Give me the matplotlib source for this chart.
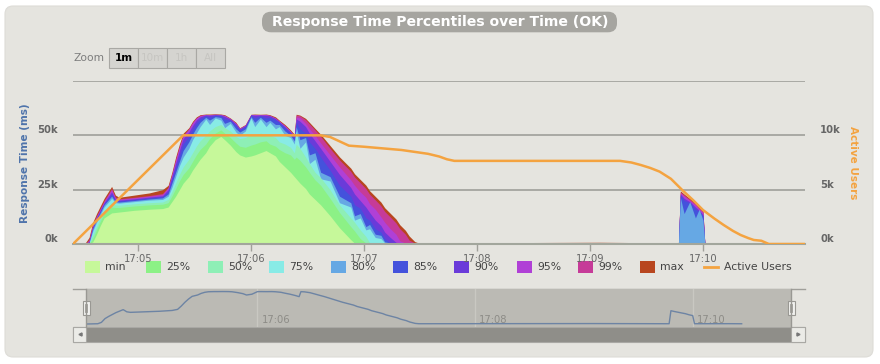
import matplotlib
matplotlib.use("Agg")
import matplotlib.pyplot as plt
from matplotlib.patches import FancyBboxPatch, Rectangle

plt.rcParams["font.family"] = ["DejaVu Sans"]

# time axis: seconds after 17:04:00
t_sec = [26, 32, 34, 36, 38, 40, 42, 46, 48, 50, 58, 66, 73,
         76, 78, 80, 82, 84, 87, 89, 91, 93, 96, 98, 101, 104, 106, 109, 112, 114,
         117, 120, 122, 125, 128, 130, 133, 135, 138, 141, 143,
         144, 146, 149, 151, 154, 157, 162, 167, 173, 175, 178, 181, 183, 186, 189,
         191, 194, 197, 199, 202, 204, 207, 209,
         305, 347, 348, 350, 353, 356, 358, 360, 361, 380, 387]

# response time percentiles (thousands of ms)
p_min = [0, 0, 0, 1, 4.5, 8.5, 12, 14.3, 14.5, 14.7, 15.5, 16, 16.3,
         17, 19.5, 22, 25, 28, 31, 34, 36.5, 39, 42, 45, 48, 49.5, 48, 45.5, 42.5, 41,
         40, 40.5, 41, 42, 43, 42, 40.5, 38, 35.5, 33, 31,
         30, 28, 25.5, 23, 20.5, 18, 13, 7.5, 2, 0.4, 0.4, 0.4, 0.4, 0.4, 0.4,
         0.4, 0.4, 0.4, 0.4, 0.4, 0.4, 0.4, 0.4,
         0.4, 0.4, 0.4, 0.4, 0.4, 0.4, 0.4, 0.4, 0.4, 0.4, 0.4]
p25 = [0, 0, 0, 2.5, 6.5, 10.5, 14, 17, 16.8, 16.8, 17.5, 18, 18.3,
       19, 22, 25.5, 29, 32, 35, 38, 41, 43.5, 46, 48.5, 51, 52.5, 51, 49, 46.5, 45,
       44.5, 45.5, 46, 47, 47.5, 46, 45, 43.5, 42, 41, 39,
       40, 38.5, 35.5, 33, 29.5, 27, 21, 14.5, 8, 6, 2.5, 0.5, 0.4, 0.4, 0.4,
       0.4, 0.4, 0.4, 0.4, 0.4, 0.4, 0.4, 0.4,
       0.4, 0.4, 0.4, 0.4, 0.4, 0.4, 0.4, 0.4, 0.4, 0.4, 0.4]
p50 = [0, 0, 0.1, 4, 8, 12, 15.5, 19, 18, 17.8, 18.5, 19, 19.3,
       20.5, 24, 28, 32, 35.5, 39, 42, 45, 47.5, 50, 52, 54, 55, 53.5, 52, 49.5, 48.5,
       49, 50.5, 50, 51, 50.5, 50, 49, 47, 46, 44.5, 42,
       46, 44, 40, 37, 33, 30.5, 25, 18, 12, 10, 6.5, 3.5, 0.6, 0.45, 0.45,
       0.45, 0.45, 0.45, 0.45, 0.45, 0.45, 0.45, 0.45,
       0.45, 0.45, 0.45, 0.45, 0.45, 0.45, 0.45, 0.45, 0.45, 0.45, 0.45]
p75 = [0, 0, 0.2, 6, 10, 13.5, 17, 21, 19, 18.8, 19.5, 20.2, 20.5,
       22, 26, 31, 36, 40, 44, 48, 51, 54, 57.5, 55, 58, 57, 53.5, 55.5, 51.5, 50,
       52, 58, 54, 57.5, 54, 56, 53, 54, 50, 49, 46,
       52, 44, 47, 37, 39, 30, 29, 19, 17, 11, 12, 6.5, 7, 3, 2.5,
       0.5, 0.45, 0.45, 0.45, 0.45, 0.45, 0.45, 0.45,
       0.45, 0.45, 0.45, 0.45, 0.45, 0.45, 0.45, 0.45, 0.45, 0.45, 0.45]
p80 = [0, 0, 0.3, 7, 11, 14.5, 18, 22, 19.5, 19.3, 20, 20.7, 21.2,
       23, 28, 33, 38, 43, 47, 50.5, 53.5, 56, 58.3, 57, 58.6, 58.2, 55.5, 56.5, 53, 51.5,
       53, 58.6, 56, 58.3, 56, 57, 55, 55, 52, 50, 47.5,
       54, 48, 49, 41, 42, 33, 31, 22, 19, 13, 14, 8, 9, 4.5, 4,
       1, 0.45, 0.45, 0.45, 0.45, 0.45, 0.45, 0.45,
       0.45, 0.45, 21.5, 14, 19.5, 12, 16, 11, 0.45, 0.45, 0.45]
p85 = [0, 0, 0.5, 7.5, 11.5, 15, 18.5, 23, 20, 19.8, 20.4, 21.2, 21.7,
       24, 29.5, 35, 40.5, 46, 49.5, 52.5, 55.5, 57.5, 59, 58.3, 59.2, 59, 57.5, 57, 54.5, 52.5,
       54, 59.2, 58, 59, 58, 58.3, 57, 56, 53.5, 51, 48.5,
       56, 53, 51, 47, 44, 40, 34, 27, 22, 18, 16.5, 12, 11, 7, 5.5,
       2.5, 0.5, 0.45, 0.45, 0.45, 0.45, 0.45, 0.45,
       0.45, 0.45, 22.5, 20, 19, 16, 15, 13, 0.45, 0.45, 0.45]
p90 = [0, 0, 1, 8, 12, 15.5, 19, 24, 20.5, 20.2, 20.8, 21.6, 22.2,
       25, 31, 37, 43, 48.5, 51.5, 54.5, 57, 58.5, 59.4, 59.2, 59.5, 59.4, 58.7, 57.5, 55.2, 53,
       54.5, 59.5, 59.2, 59.3, 59.2, 59, 57.7, 56.3, 54, 51.5, 49.5,
       57.5, 56.5, 54, 51, 47.5, 44, 38, 32, 26, 23, 20, 17, 14.5, 11, 8.5,
       5.5, 3, 0.8, 0.45, 0.45, 0.45, 0.45, 0.45,
       0.45, 0.45, 23, 21, 19.5, 17, 15.5, 13.5, 0.45, 0.45, 0.45]
p95 = [0, 0, 1.5, 8.5, 12.5, 16, 19.5, 25, 21, 20.5, 21.2, 22, 22.7,
       25.8, 32, 38.5, 44.5, 50, 52.8, 55.8, 58, 59, 59.6, 59.5, 59.7, 59.6, 59.2, 57.8, 55.6, 53.3,
       54.8, 59.6, 59.6, 59.5, 59.6, 59.2, 58, 56.6, 54.4, 51.9, 49.9,
       58.5, 58, 55.5, 53, 50, 46.5, 41, 35.5, 29.5, 27, 24, 21.5, 18.5, 16, 12.5,
       10, 7, 4.5, 1.5, 0.45, 0.45, 0.45, 0.45,
       0.45, 0.45, 23.5, 22, 20, 18, 16, 14.5, 0.45, 0.45, 0.45]
p99 = [0, 0, 2, 9, 13, 16.5, 20, 25.5, 21.5, 20.8, 21.5, 22.3, 23.2,
       26, 32, 39, 45, 50, 53, 56, 58, 59.3, 59.6, 59.5, 59.7, 59.5, 59, 57.5, 55.5, 53,
       54.5, 59.3, 59.5, 59.4, 59.5, 59.2, 58, 56.5, 54.5, 52, 50,
       59.4, 59, 57.2, 55.3, 52.5, 49.5, 44, 38.7, 33.4, 30.8, 28.2, 25.5, 22.9, 20.3, 17.6,
       15, 12.4, 9.7, 7.1, 4.5, 1.8, 0.45, 0.45,
       0.5, 0.45, 24, 22.5, 20.5, 18.5, 16.5, 15, 0.45, 0.45, 0.45]
p_max = [0, 0.5, 3, 10, 14, 17.5, 21, 26.5, 22.5, 21.5, 22.5, 23.5, 25,
         27, 33, 40, 46, 51, 53.5, 56.5, 58.5, 59.5, 59.8, 59.8, 59.9, 59.8, 59.5, 58, 56, 53.5,
         55, 59.7, 59.8, 59.7, 59.8, 59.5, 58.5, 57, 55, 52.5, 50.5,
         59.7, 59.3, 57.8, 56, 53.2, 50.5, 45.3, 40.1, 34.9, 32.3, 29.7, 27.1, 24.5, 21.9, 19.3,
         16.7, 14.1, 11.5, 8.9, 6.3, 3.7, 1.1, 0.5,
         0.8, 0.5, 24.5, 23, 21, 19, 17, 15.5, 0.5, 0.6, 0.45]

# active users (thousands)
au_t = [25.5, 84, 157, 162, 167, 172, 180, 190, 200, 208, 214, 220, 224, 228,
        316, 322, 327, 332, 337, 343, 349, 355, 360, 366, 371, 376, 380, 384, 387,
        391, 395, 414.2]
au_k = [0, 10, 10, 9.85, 9.45, 9.05, 8.95, 8.8, 8.65, 8.45, 8.3, 8.05, 7.8, 7.65,
        7.65, 7.5, 7.27, 7.0, 6.66, 6.0, 4.97, 4.0, 3.13, 2.35, 1.75, 1.2, 0.83, 0.55, 0.37,
        0.3, 0, 0]

names = ["min", "25%", "50%", "75%", "80%", "85%", "90%", "95%", "99%", "max"]
values = [p_min, p25, p50, p75, p80, p85, p90, p95, p99, p_max]
colors = ["#c6f89a", "#8cf186", "#8eefb6", "#88ebe6", "#66a8e4",
          "#4452dc", "#6a3bd9", "#b040d6", "#c63b98", "#b8461f"]
au_color = "#f4a340"

minute_ticks = [60, 120, 180, 240, 300, 360]
minute_labels = ["17:05", "17:06", "17:07", "17:08", "17:09", "17:10"]

W, H = 880, 364
fig = plt.figure(figsize=(W / 100, H / 100), dpi=100, facecolor="white")

def frame(x0, y0, x1, y1):
    return [x0 / W, 1 - y1 / H, (x1 - x0) / W, (y1 - y0) / H]

# background layer in pixel coords
bg = fig.add_axes([0, 0, 1, 1], zorder=0)
bg.set_xlim(0, W)
bg.set_ylim(H, 0)
bg.axis("off")

bg.add_patch(FancyBboxPatch((5, 6), 868, 351, boxstyle="round,pad=0,rounding_size=8",
                            fc="#e5e4df", ec="#dddcd7", lw=0.8))
bg.add_patch(FancyBboxPatch((262, 11.7), 355, 20.6, boxstyle="round,pad=0,rounding_size=9",
                            fc="#a6a5a0", ec="none"))
bg.text(440, 22.3, "Response Time Percentiles over Time (OK)", color="white",
        fontsize=10.1, fontweight="bold", ha="center", va="center")

# zoom buttons
bg.text(73, 58, "Zoom", color="#7d7d7d", fontsize=7.75, va="center")
for i, lab in enumerate(["1m", "10m", "1h", "All"]):
    bx = 109 + 29 * i
    bg.add_patch(Rectangle((bx, 48), 29, 19.5, fc="#d5d4d0", ec="#a9a8a4", lw=0.8))
    if i == 0:
        bg.text(bx + 14.5, 57.8, lab, color="black", fontsize=7.5, fontweight="bold",
                ha="center", va="center")
    else:
        bg.text(bx + 14.5, 57.8, lab, color="#c6c5c1", fontsize=7.5,
                ha="center", va="center")

# axis titles
bg.text(25, 163, "Response Time (ms)", rotation=90, color="#4f74ab", fontsize=7.6,
        fontweight="bold", ha="center", va="center")
bg.text(853, 163, "Active Users", rotation=270, color=au_color, fontsize=7.5,
        fontweight="bold", ha="center", va="center")

# legend
leg_x = [85, 146, 208, 269, 331, 393, 454, 517, 578, 640]
for lx, name, col in zip(leg_x, names, colors):
    bg.add_patch(Rectangle((lx, 261), 15, 12, fc=col, ec="none"))
    bg.text(lx + 20, 267.5, name, color="#444444", fontsize=7.85, va="center")
bg.plot([704, 718], [267, 267], color=au_color, lw=2)
bg.text(724, 267.5, "Active Users", color="#444444", fontsize=7.85, va="center")

# navigator frame and scrollbar
bg.plot([73, 805], [289, 289], color="#a09f9a", lw=1)
bg.add_patch(Rectangle((73, 327), 732, 14.5, fc="#8f8e89", ec="#a9a8a4", lw=0.8))
bg.add_patch(Rectangle((73, 327), 13, 14.5, fc="#ebebe7", ec="#a9a8a4", lw=0.8))
bg.add_patch(Rectangle((791, 327), 14, 14.5, fc="#ebebe7", ec="#a9a8a4", lw=0.8))
bg.plot(79.5, 334.3, marker="<", ms=2.2, color="#777777")
bg.plot(798, 334.3, marker=">", ms=2.2, color="#777777")

# main chart
ax = fig.add_axes(frame(73, 81, 805, 244), zorder=2)
ax.patch.set_visible(False)
for name, vals, col in reversed(list(zip(names, values, colors))):
    ax.fill_between(t_sec, 0, [v * 1000 for v in vals], color=col, lw=0)
for gy in (25000, 50000, 75000):
    ax.axhline(gy, color="#a4a49f", lw=1.3, zorder=0.5)
ax.set_xlim(25.5, 414.2)
ax.set_ylim(0, 75000)
for s in ("top", "left", "right"):
    ax.spines[s].set_visible(False)
ax.spines["bottom"].set_color("#a2a69c")
ax.spines["bottom"].set_linewidth(1.5)
ax.set_xticks(minute_ticks)
ax.set_xticklabels(minute_labels)
ax.tick_params(axis="x", length=5, width=1, color="#a0a09a", labelsize=7.2,
               labelcolor="#666666", pad=2)
ax.set_yticks([0, 25000, 50000])
ax.set_yticklabels(["0k", "25k", "50k"], fontweight="bold")
ax.tick_params(axis="y", length=0, pad=10.8, labelsize=7.2, labelcolor="#666666")
for lab in ax.get_yticklabels():
    lab.set_va("bottom")

ax2 = ax.twinx()
ax2.plot(au_t, [v * 1000 for v in au_k], color=au_color, lw=1.8)
ax2.set_ylim(0, 15000)
for s in ax2.spines.values():
    s.set_visible(False)
ax2.set_yticks([0, 5000, 10000])
ax2.set_yticklabels(["0k", "5k", "10k"], fontweight="bold")
ax2.tick_params(axis="y", length=0, pad=10.8, labelsize=7.2, labelcolor="#666666")
for lab in ax2.get_yticklabels():
    lab.set_va("bottom")

# navigator
nav = fig.add_axes(frame(86, 289, 791, 327), zorder=1)
nav.set_facecolor("#bbbab4")
for s in nav.spines.values():
    s.set_visible(False)
nav.set_xticks([])
nav.set_yticks([])
nav.set_xlim(25.5, 414.2)
nav.set_ylim(-5540, 64600)
for tk, lab in zip([120, 240, 360], ["17:06", "17:08", "17:10"]):
    nav.axvline(tk, color="#c9c8c2", lw=1)
    nav.annotate(lab, xy=(tk, 0.18), xycoords=("data", "axes fraction"),
                 xytext=(3, 0), textcoords="offset points", ha="left", va="center",
                 fontsize=7.2, color="#8d8c87")
nav.plot(t_sec, [v * 1000 for v in p_max], color="#6d84a4", lw=1)

# navigator handles on top
fg = fig.add_axes([0, 0, 1, 1], zorder=5)
fg.set_xlim(0, W)
fg.set_ylim(H, 0)
fg.axis("off")
for hx in (86, 791):
    fg.plot([hx, hx], [289, 327], color="#999893", lw=1)
    fg.add_patch(Rectangle((hx - 3.5, 301), 7, 14, fc="#f1f1ef", ec="#999893", lw=0.8))
    fg.plot([hx - 1, hx - 1], [304, 312], color="#999893", lw=0.6)
    fg.plot([hx + 1, hx + 1], [304, 312], color="#999893", lw=0.6)

fig.savefig("out.png", dpi=100, facecolor="white")
